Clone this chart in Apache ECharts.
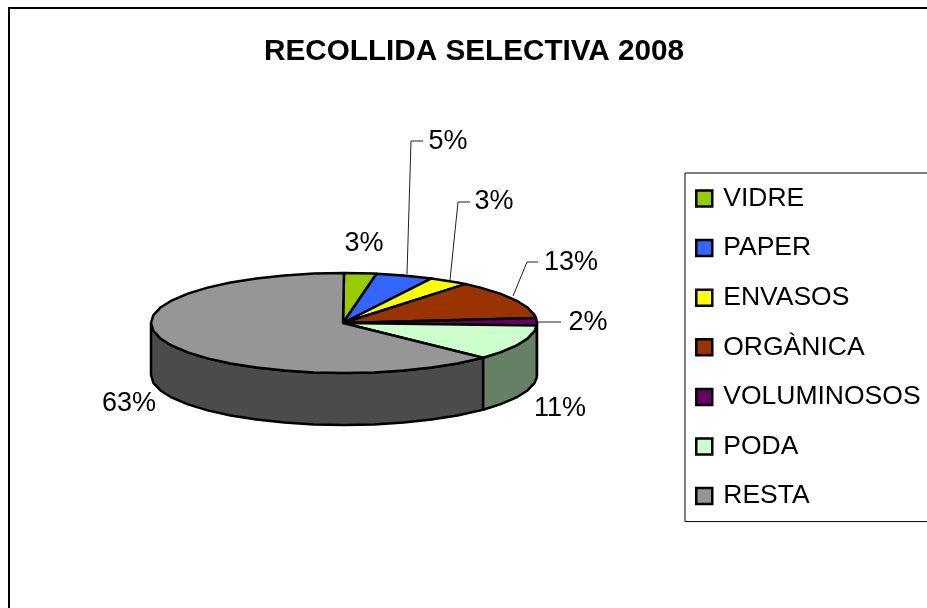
<!DOCTYPE html>
<html>
<head>
<meta charset="utf-8">
<style>html,body{margin:0;padding:0;background:#fff;overflow:hidden}#c{width:927px;height:608px}</style>
<script src="https://cdn.jsdelivr.net/npm/echarts@6/dist/echarts.min.js"></script>
</head>
<body>
<div id="c"></div>
<script>
const titleText = 'RECOLLIDA SELECTIVA 2008';
const categories = ['VIDRE', 'PAPER', 'ENVASOS', 'ORGÀNICA', 'VOLUMINOSOS', 'PODA', 'RESTA'];
const values = [2.7, 4.8, 3.3, 12.6, 2.4, 11.4, 62.8];

const topColors = ['#99CC00', '#3366FF', '#FFFF00', '#993300', '#660066', '#CCFFCC', '#969696'];
const sideColors = ['#4D6600', '#1A3380', '#808000', '#4D1A00', '#330033', '#668066', '#4B4B4B'];
const FONT = '"Liberation Sans", Arial, sans-serif';

// pie projection
const PIE = { cx: 344, cy: 323, rx: 193, ry: 50, depth: 52, step: 9 };
// label anchors (text centre) and leader lines, per category
const labelPos = [[364, 244], [448, 142], [494, 202], [571, 263], [588, 323], [560, 409], [129, 404]];
const leaders = [
  null,
  [[407, 274], [411, 141], [423, 141]],
  [[450, 280], [458, 202], [470, 202]],
  [[513, 296], [527, 262], [538, 262]],
  [[538, 322], [561, 322]],
  null,
  null
];

const total = values.reduce((a, b) => a + b, 0);
const cum = [0];
values.forEach((v, i) => cum.push(cum[i] + v));
const angleOf = i => cum[i] / total * 360;

function rim(deg, dy) {
  const r = deg * Math.PI / 180;
  return [PIE.cx + PIE.rx * Math.sin(r), PIE.cy - PIE.ry * Math.cos(r) + (dy || 0)];
}
function arcAngles(a0, a1) {
  const out = [a0];
  let g = (Math.floor(a0 / PIE.step) + 1) * PIE.step;
  while (g < a1 - 0.01) { out.push(g); g += PIE.step; }
  out.push(a1);
  return out;
}
const stroke = { stroke: '#000', lineWidth: 2.5, lineJoin: 'round' };

function renderSlice(params) {
  const i = params.seriesIndex;
  const a0 = angleOf(i), a1 = angleOf(i + 1);
  const children = [];
  // visible outer wall: front half of the disc only
  const s0 = Math.max(a0, 90), s1 = Math.min(a1, 270);
  if (s1 > s0) {
    const arc = arcAngles(s0, s1);
    const pts = arc.map(a => rim(a, 0)).concat(arc.slice().reverse().map(a => rim(a, PIE.depth)));
    children.push({ type: 'polygon', shape: { points: pts }, style: Object.assign({ fill: sideColors[i] }, stroke) });
  }
  // top face
  const topPts = [[PIE.cx - 1, PIE.cy]].concat(arcAngles(a0, a1).map(a => rim(a, 0)));
  children.push({ type: 'polygon', shape: { points: topPts }, style: Object.assign({ fill: topColors[i] }, stroke) });
  // leader
  if (leaders[i]) {
    children.push({ type: 'polyline', shape: { points: leaders[i] }, style: { fill: null, stroke: '#222', lineWidth: 1 } });
  }
  // data label
  children.push({
    type: 'text',
    style: {
      text: Math.round(values[i] / total * 100) + '%',
      x: labelPos[i][0], y: labelPos[i][1],
      align: 'center', verticalAlign: 'middle',
      font: '27px ' + FONT, fill: '#000'
    }
  });
  return { type: 'group', children };
}

const chart = echarts.init(document.getElementById('c'), null, { renderer: 'canvas' });
chart.setOption({
  animation: false,
  backgroundColor: '#fff',
  title: {
    text: titleText,
    left: 264, top: 37, padding: 0,
    textStyle: { fontFamily: FONT, fontSize: 29.7, fontWeight: 'bold', color: '#000' }
  },
  graphic: [{
    type: 'rect', z: -10, silent: true,
    shape: { x: 9, y: 8, width: 1200, height: 1200 },
    style: { fill: '#fff', stroke: '#000', lineWidth: 2 }
  }],
  legend: {
    data: categories, orient: 'vertical',
    left: 685, top: 173,
    padding: [12, 60, 12, 10],
    itemGap: 22.6, itemWidth: 16, itemHeight: 16,
    icon: 'rect', selectedMode: false,
    backgroundColor: '#fff', borderColor: '#000', borderWidth: 1, borderRadius: 0,
    textStyle: { fontFamily: FONT, fontSize: 26.5, color: '#000', padding: [0, 0, 0, 6], height: 26, lineHeight: 26 },
    itemStyle: { borderColor: '#000', borderWidth: 2.5 }
  },
  series: categories.map((name, i) => ({
    type: 'custom', name, coordinateSystem: 'none',
    data: [[values[i]]],
    itemStyle: { color: topColors[i], borderColor: '#000', borderWidth: 2.5 },
    renderItem: renderSlice,
    silent: true
  }))
});
</script>
</body>
</html>
